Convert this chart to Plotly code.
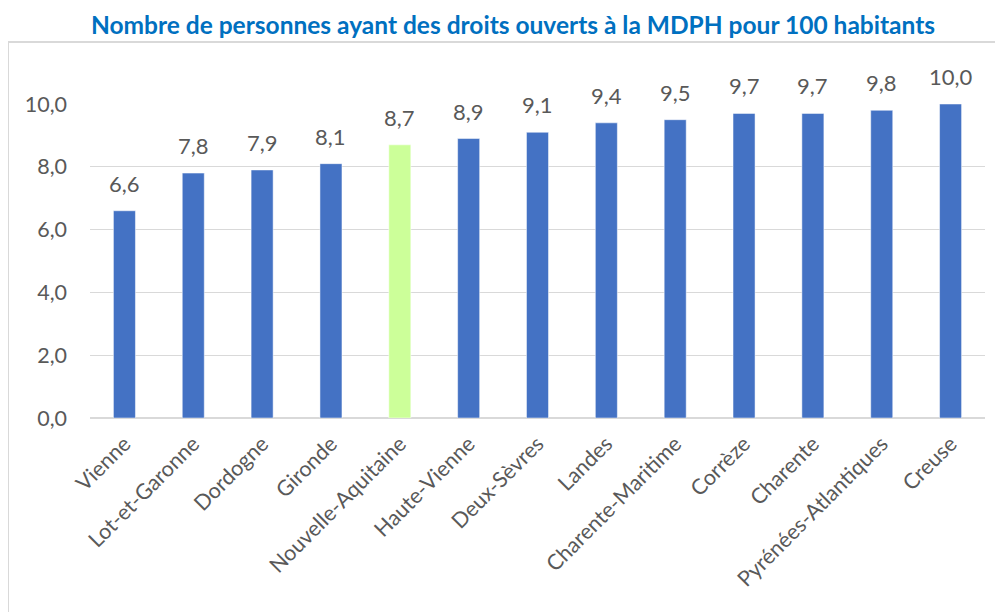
import plotly.graph_objects as go

categories = ["Vienne", "Lot-et-Garonne", "Dordogne", "Gironde", "Nouvelle-Aquitaine",
              "Haute-Vienne", "Deux-Sèvres", "Landes", "Charente-Maritime", "Corrèze",
              "Charente", "Pyrénées-Atlantiques", "Creuse"]
values = [6.6, 7.8, 7.9, 8.1, 8.7, 8.9, 9.1, 9.4, 9.5, 9.7, 9.7, 9.8, 10.0]
highlight = "Nouvelle-Aquitaine"
y_ticks = [0, 2, 4, 6, 8, 10]

BLUE = "#4472C4"
GREEN = "#CCFF99"
colors = [GREEN if c == highlight else BLUE for c in categories]

FONT = "Lato"
GRAY = "#595959"

fig = go.Figure(go.Bar(
    x=categories, y=values,
    marker=dict(color=colors, line=dict(color="white", width=0.5)),
    width=0.32,
    hoverinfo="x+y",
))

for c, v in zip(categories, values):
    fig.add_annotation(x=c, y=v, text=f"{v:.1f}".replace(".", ","), showarrow=False,
                       yanchor="bottom", yshift=12,
                       font=dict(family=FONT, size=22, color=GRAY))

# figure sits at an 8px page offset; coordinates below are in figure pixels
W, H = 995, 604
L, R, T, B = 82, 18, 96, 194
px2x = lambda p: (p - L) / (W - L - R)
px2y = lambda p: (H - B - p) / (H - T - B)

fig.update_layout(
    width=W, height=H,
    margin=dict(l=L, r=R, t=T, b=B, autoexpand=False),
    paper_bgcolor="white", plot_bgcolor="white",
    separators=", ",
    showlegend=False,
    title=dict(text="<b>Nombre de personnes ayant des droits ouverts à la MDPH pour 100 habitants</b>",
               x=505 / W, xanchor="center", xref="container", y=1 - 17 / H, yanchor="middle",
               yref="container",
               font=dict(family=FONT, size=24.5, color="#0070C0")),
    xaxis=dict(tickangle=-45, tickfont=dict(family=FONT, size=21.5, color=GRAY),
               showline=False, ticks="", showgrid=False, automargin=False,
               ticklabelstandoff=8),
    yaxis=dict(range=[0, 10], tickvals=y_ticks, tickformat=".1f",
               tickfont=dict(family=FONT, size=21.5, color=GRAY),
               gridcolor="#D9D9D9", gridwidth=1.2, zeroline=True, zerolinecolor="#D9D9D9",
               zerolinewidth=1.5, showline=False, ticks="", ticklabelstandoff=22,
               automargin=False),
    shapes=[dict(type="rect", xref="paper", yref="paper",
                 x0=px2x(0), x1=px2x(1010), y0=px2y(640), y1=px2y(34),
                 line=dict(color="#D9D9D9", width=2), fillcolor="rgba(0,0,0,0)", layer="below")],
)

fig.write_html("out.html")
